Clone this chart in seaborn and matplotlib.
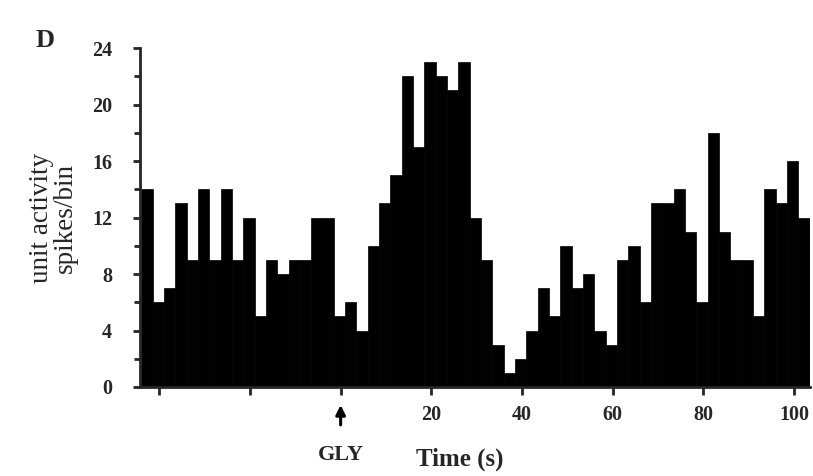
import numpy as np
import pandas as pd
import matplotlib
matplotlib.use("Agg")
import matplotlib.pyplot as plt
import seaborn as sns

# spikes per 2.5 s bin
counts = [14, 6, 7, 13, 9, 14, 9, 14, 9, 12, 5, 9, 8, 9, 9, 12, 12, 5, 6, 4,
          10, 13, 15, 22, 17, 23, 22, 21, 23, 12, 9, 3, 1, 2, 4, 7, 5, 10, 7, 8,
          4, 3, 9, 10, 6, 13, 13, 14, 11, 6, 18, 11, 9, 9, 5, 14, 13, 16, 12]
bin_start = -44.0
bin_width = 2.5
xtick_major = [-40, -20, 0, 20, 40, 60, 80, 100]
xtick_labels = ["", "", "", "20", "40", "60", "80", "100"]
yticks = [0, 4, 8, 12, 16, 20, 24]

edges = bin_start + bin_width * np.arange(len(counts) + 1)
centers = (edges[:-1] + edges[1:]) / 2
df = pd.DataFrame({"time": centers, "spikes": counts})

sns.set_style("ticks")
plt.rcParams["font.family"] = ["Liberation Serif", "DejaVu Serif"]

fig = plt.figure(figsize=(8.13, 4.76), dpi=100)
ax = fig.add_axes([0.172, 0.187, 0.824, 0.712])

sns.histplot(data=df, x="time", weights="spikes", binwidth=bin_width,
             binrange=(float(edges[0]), float(edges[-1])), color="black",
             edgecolor="black", alpha=1, linewidth=0.5, ax=ax)

ax.set_xlim(edges[0] - 0.3, edges[-1])
ax.set_ylim(0, 24)
ax.set_xticks(xtick_major)
ax.set_xticklabels(xtick_labels)
ax.set_yticks(yticks)
ax.set_yticks(np.arange(0, 25, 2), minor=True)
ax.set_yticklabels([str(v) for v in yticks])
for lab in ax.get_xticklabels() + ax.get_yticklabels():
    lab.set_fontweight("bold")
    lab.set_fontsize(14.5)
ax.tick_params(axis="x", direction="out", length=6, width=2, pad=7)
ax.tick_params(axis="y", which="both", direction="out", length=5, width=2, pad=15)
ax.tick_params(axis="y", which="minor", length=4)

sns.despine(ax=ax)
for s in ("left", "bottom"):
    ax.spines[s].set_linewidth(2)

ax.set_xlabel("")
ax.set_ylabel("unit activity\nspikes/bin", fontsize=19.5, labelpad=10, linespacing=0.95)

# GLY application marker
ax.annotate("", xy=(0, -0.045), xycoords=("data", "axes fraction"),
            xytext=(0, -0.12), textcoords=("data", "axes fraction"),
            arrowprops=dict(arrowstyle="-|>", color="black", lw=2.2, mutation_scale=14))
ax.text(0, -0.2, "GLY", transform=ax.get_xaxis_transform(), ha="center",
        va="center", fontsize=16, fontweight="bold")
fig.text(0.565, 0.035, "Time (s)", ha="center", va="center", fontsize=18,
         fontweight="bold")
fig.text(0.055, 0.915, "D", ha="center", va="center", fontsize=19, fontweight="bold")

fig.savefig("out.png", dpi=100)
